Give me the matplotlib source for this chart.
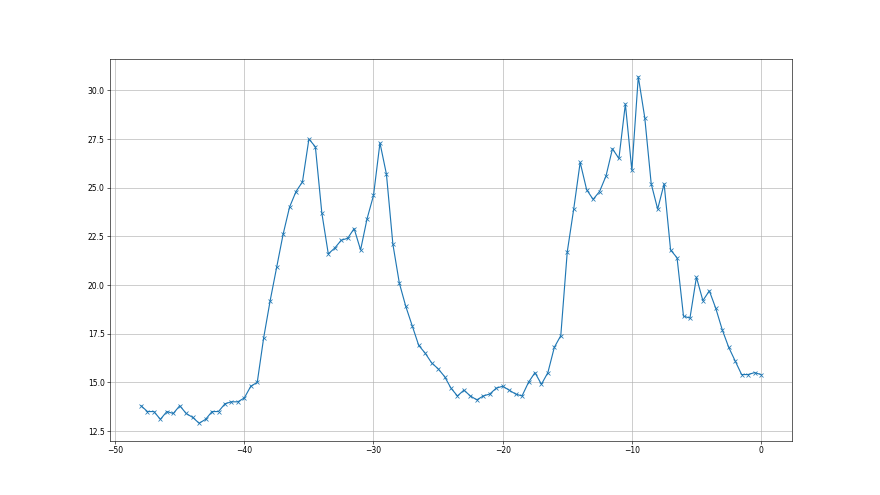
import numpy as np
import matplotlib
matplotlib.use("Agg")
import matplotlib.pyplot as plt

x_values = np.arange(-48.0, 0.01, 0.5)
y_values = [
    13.8, 13.5, 13.5, 13.1, 13.5, 13.4, 13.8, 13.4, 13.2, 12.9,
    13.1, 13.5, 13.5, 13.9, 14.0, 14.0, 14.2, 14.8, 15.0, 17.3,
    19.2, 20.9, 22.6, 24.0, 24.8, 25.3, 27.5, 27.1, 23.7, 21.6,
    21.9, 22.3, 22.4, 22.9, 21.8, 23.4, 24.6, 27.3, 25.7, 22.1,
    20.1, 18.9, 17.9, 16.9, 16.5, 16.0, 15.7, 15.3, 14.7, 14.3,
    14.6, 14.3, 14.1, 14.3, 14.4, 14.7, 14.8, 14.6, 14.4, 14.3,
    15.0, 15.5, 14.9, 15.5, 16.8, 17.4, 21.7, 23.9, 26.3, 24.9,
    24.4, 24.8, 25.6, 27.0, 26.5, 29.3, 25.9, 30.7, 28.6, 25.2,
    23.9, 25.2, 21.8, 21.4, 18.4, 18.3, 20.4, 19.2, 19.7, 18.8,
    17.7, 16.8, 16.1, 15.4, 15.4, 15.5, 15.4,
]

fig, ax = plt.subplots(figsize=(16, 9), dpi=55)
ax.plot(x_values, y_values, marker='x', color='#1f77b4', linewidth=1.5, markersize=6)
ax.grid(True, color='#b0b0b0', linewidth=0.8)
ax.set_xticks([-50, -40, -30, -20, -10, 0])
ax.set_yticks([12.5, 15.0, 17.5, 20.0, 22.5, 25.0, 27.5, 30.0])
fig.savefig("out.png", dpi=55)
